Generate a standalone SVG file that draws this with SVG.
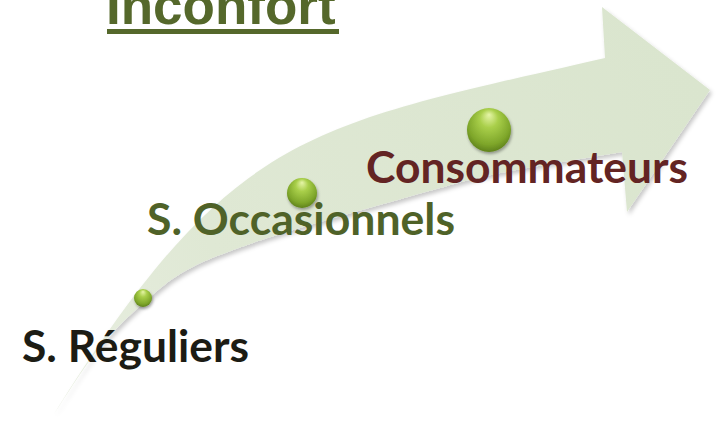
<svg xmlns="http://www.w3.org/2000/svg" width="717" height="421" viewBox="0 0 717 421">
  <defs>
    <linearGradient id="arrowFill" gradientUnits="userSpaceOnUse" x1="52" y1="417" x2="700" y2="80">
      <stop offset="0" stop-color="#e9efe2"/>
      <stop offset="0.3" stop-color="#dfe8d4"/>
      <stop offset="1" stop-color="#dae5ce"/>
    </linearGradient>
    <radialGradient id="ball" cx="0.5" cy="0.4" r="0.6" fx="0.5" fy="0.15">
      <stop offset="0" stop-color="#e6f5a8"/>
      <stop offset="0.35" stop-color="#a9cf4a"/>
      <stop offset="0.8" stop-color="#7ea62a"/>
      <stop offset="1" stop-color="#5f821b"/>
    </radialGradient>
    <filter id="shadow" x="-20%" y="-20%" width="140%" height="140%">
      <feDropShadow dx="2" dy="3" stdDeviation="2" flood-color="#000" flood-opacity="0.22"/>
    </filter>
    <filter id="ballShadow" x="-50%" y="-50%" width="200%" height="200%">
      <feDropShadow dx="1" dy="2" stdDeviation="1.5" flood-color="#000" flood-opacity="0.35"/>
    </filter>
  </defs>
  <style>
    .label { font-family: Lato, "Noto Sans", "Liberation Sans", sans-serif; font-weight: 700; font-size: 44px; }
    .title { font-family: "Liberation Sans", Arial, sans-serif; font-weight: 700; font-size: 53px; fill: #55682b; }
    .ball { fill: url(#ball); filter: url(#ballShadow); }
  </style>

  <g id="arrow">
    <path filter="url(#shadow)" fill="url(#arrowFill)" d="M52,417 C232,129 305,127 605,58 L602,7 L710,90 L627,212 L622,152 C601.7,155.5 531.5,166.7 500,173 C468.5,179.3 466.3,180.8 433,190 C399.7,199.2 333.3,218 300,228 C266.7,238 251.8,243 233,250 C214.2,257 200.8,262.2 187,270 C173.2,277.8 164.5,284.2 150,297 C135.5,309.8 116.3,327 100,347 C83.7,367 60,405.3 52,417 Z"/>
  </g>

  <g id="title">
    <text class="title" x="106" y="24">Inconfort</text>
    <rect x="107" y="29" width="232" height="5" fill="#55682b"/>
  </g>

  <g id="node-reguliers">
    <text class="label" x="22" y="362" fill="#1c1c14" textLength="227" lengthAdjust="spacingAndGlyphs">S. Réguliers</text>
    <circle class="ball" cx="143" cy="298" r="9"/>
  </g>

  <g id="node-occasionnels">
    <text class="label" x="147" y="235" fill="#4f6228" textLength="308" lengthAdjust="spacingAndGlyphs">S. Occasionnels</text>
    <circle class="ball" cx="302" cy="193" r="15"/>
  </g>

  <g id="node-consommateurs">
    <text class="label" x="366" y="183" fill="#632423" textLength="322" lengthAdjust="spacingAndGlyphs">Consommateurs</text>
    <circle class="ball" cx="489" cy="130" r="22"/>
  </g>
</svg>
